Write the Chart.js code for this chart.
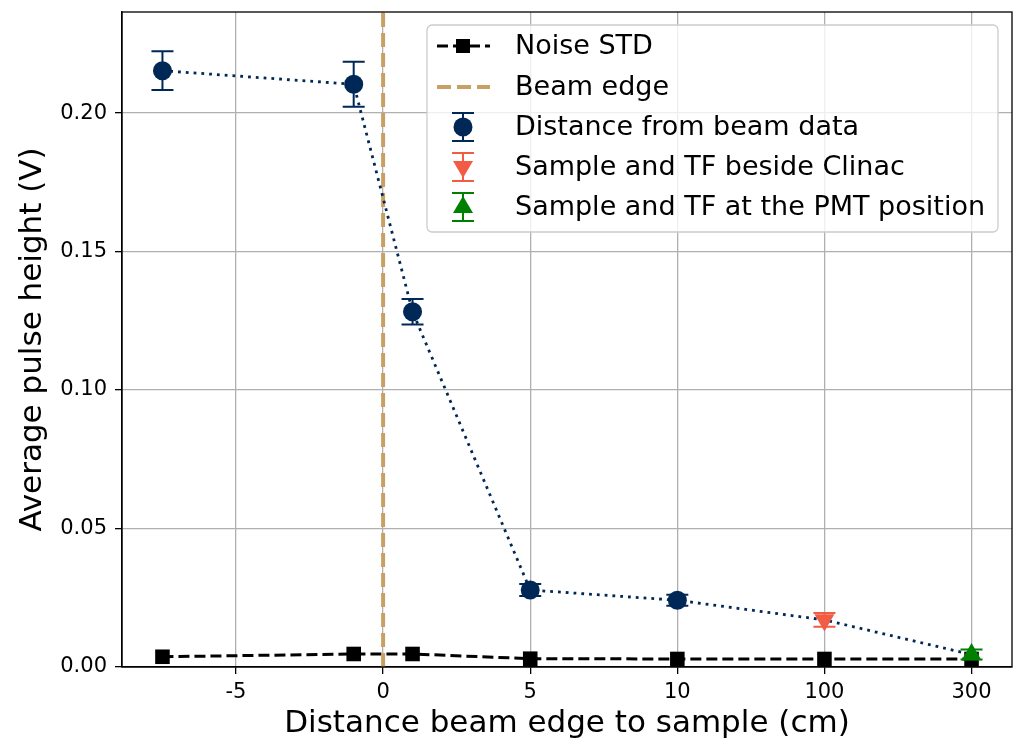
<!DOCTYPE html>
<html lang="en">
<head>
    <meta charset="UTF-8">
    <title>Average pulse height vs distance from beam edge</title>
    <script src="https://cdn.jsdelivr.net/npm/chart.js@4.4.1/dist/chart.umd.min.js"></script>
    <style>
        html, body { margin: 0; padding: 0; background: #fff; }
        #wrap { width: 1020px; height: 747px; }
    </style>
</head>
<body>
    <div id="wrap"><canvas id="pulseChart" width="1020" height="747"></canvas></div>

    <script>
        // Tick positions on the x axis and the distances they stand for (cm)
        const tickPos = [1, 2, 3, 4, 5, 6];
        const tickLabels = ['-5', '0', '5', '10', '100', '300'];
        const yTicks = [0, 0.05, 0.10, 0.15, 0.20];

        // Distance from beam data
        const beamX = [0.5, 1.8, 2.2, 3, 4];
        const beamY = [0.2153, 0.2104, 0.1283, 0.0278, 0.0241];
        const beamErr = [0.0070, 0.0081, 0.0046, 0.0022, 0.0020];

        // Sample and TF beside Clinac
        const clinacX = [5];
        const clinacY = [0.0170];
        const clinacErr = [0.0025];

        // Sample and TF at the PMT position
        const pmtX = [6];
        const pmtY = [0.0045];
        const pmtErr = [0.0018];

        // Noise STD
        const noiseX = [0.5, 1.8, 2.2, 3, 4, 5, 6];
        const noiseY = [0.0037, 0.0047, 0.0047, 0.0030, 0.0029, 0.0029, 0.0029];

        // Beam edge sits at 0 cm
        const edgeX = 2;

        const NAVY = '#002856';
        const RED = '#f25c45';
        const GREEN = '#008000';
        const TAN = '#c9a063';
        const FONT = 'DejaVu Sans';
        const Y_MAX = 0.2365;

        const pts = (xs, ys) => xs.map((x, i) => ({ x: x, y: ys[i] }));

        // dotted guide through every measured point
        const allX = beamX.concat(clinacX, pmtX);
        const allY = beamY.concat(clinacY, pmtY);

        // no extra room for tick labels at the ends of the axes
        const noPad = s => {
            s.paddingTop = 0; s.paddingBottom = 0;
            s.paddingLeft = 0; s.paddingRight = 0;
        };

        // draw error bars of a dataset just before its markers
        const errorBars = {
            id: 'errorBars',
            beforeDatasetDraw(chart, args) {
                const ds = chart.data.datasets[args.index];
                if (!ds.errors) return;
                const { ctx, scales: { x, y } } = chart;
                ctx.save();
                ctx.strokeStyle = ds.errColor;
                ctx.lineWidth = 2;
                ds.data.forEach((p, i) => {
                    const px = x.getPixelForValue(p.x);
                    const top = y.getPixelForValue(p.y + ds.errors[i]);
                    const bot = y.getPixelForValue(p.y - ds.errors[i]);
                    ctx.beginPath();
                    ctx.moveTo(px, top); ctx.lineTo(px, bot);
                    ctx.moveTo(px - 11, top); ctx.lineTo(px + 11, top);
                    ctx.moveTo(px - 11, bot); ctx.lineTo(px + 11, bot);
                    ctx.stroke();
                });
                ctx.restore();
            }
        };

        // top/right spines and the boxed legend inside the plot
        const frameAndLegend = {
            id: 'frameAndLegend',
            afterDraw(chart) {
                const { ctx, chartArea: a } = chart;
                ctx.save();
                ctx.strokeStyle = '#000';
                ctx.lineWidth = 1.3;
                ctx.strokeRect(a.left, a.top, a.right - a.left, a.bottom - a.top);

                // legend frame
                const bx = 427, by = 25, bw = 571, bh = 207, r = 5;
                ctx.beginPath();
                ctx.moveTo(bx + r, by);
                ctx.arcTo(bx + bw, by, bx + bw, by + bh, r);
                ctx.arcTo(bx + bw, by + bh, bx, by + bh, r);
                ctx.arcTo(bx, by + bh, bx, by, r);
                ctx.arcTo(bx, by, bx + bw, by, r);
                ctx.closePath();
                ctx.fillStyle = 'rgba(255,255,255,0.8)';
                ctx.fill();
                ctx.strokeStyle = '#cccccc';
                ctx.lineWidth = 1.3;
                ctx.stroke();

                const names = ['Noise STD', 'Beam edge', 'Distance from beam data',
                    'Sample and TF beside Clinac', 'Sample and TF at the PMT position'];
                const rows = [46, 87, 127, 167, 207];
                const hx = 463;

                // Noise STD handle
                ctx.setLineDash([11, 5]);
                ctx.lineWidth = 3;
                ctx.strokeStyle = '#000';
                ctx.beginPath(); ctx.moveTo(437, rows[0]); ctx.lineTo(490, rows[0]); ctx.stroke();
                ctx.setLineDash([]);
                ctx.fillStyle = '#000';
                ctx.fillRect(hx - 7, rows[0] - 7, 14, 14);

                // Beam edge handle
                ctx.setLineDash([14, 6]);
                ctx.lineWidth = 4;
                ctx.strokeStyle = TAN;
                ctx.beginPath(); ctx.moveTo(437, rows[1]); ctx.lineTo(490, rows[1]); ctx.stroke();
                ctx.setLineDash([]);

                // error bar handles
                const errHandle = (cy, color) => {
                    ctx.strokeStyle = color;
                    ctx.lineWidth = 2;
                    ctx.beginPath();
                    ctx.moveTo(hx, cy - 14); ctx.lineTo(hx, cy + 14);
                    ctx.moveTo(hx - 11, cy - 14); ctx.lineTo(hx + 11, cy - 14);
                    ctx.moveTo(hx - 11, cy + 14); ctx.lineTo(hx + 11, cy + 14);
                    ctx.stroke();
                    ctx.fillStyle = color;
                };
                errHandle(rows[2], NAVY);
                ctx.beginPath(); ctx.arc(hx, rows[2], 9.5, 0, Math.PI * 2); ctx.fill();

                errHandle(rows[3], RED);
                ctx.beginPath();
                ctx.moveTo(hx - 10, rows[3] - 6); ctx.lineTo(hx + 10, rows[3] - 6); ctx.lineTo(hx, rows[3] + 11);
                ctx.closePath(); ctx.fill();

                errHandle(rows[4], GREEN);
                ctx.beginPath();
                ctx.moveTo(hx - 10, rows[4] + 6); ctx.lineTo(hx + 10, rows[4] + 6); ctx.lineTo(hx, rows[4] - 11);
                ctx.closePath(); ctx.fill();

                ctx.fillStyle = '#000';
                ctx.font = '27px "' + FONT + '"';
                ctx.textBaseline = 'middle';
                names.forEach((n, i) => ctx.fillText(n, 515, rows[i] + 1));
                ctx.restore();
            }
        };

        new Chart(document.getElementById('pulseChart'), {
            type: 'scatter',
            data: {
                datasets: [
                    {
                        label: 'Noise STD',
                        data: pts(noiseX, noiseY),
                        showLine: true,
                        borderColor: '#000',
                        borderWidth: 3,
                        borderDash: [11, 5],
                        pointStyle: 'rect',
                        pointRadius: 10.3,
                        pointBorderWidth: 0,
                        pointBackgroundColor: '#000',
                        order: 6
                    },
                    {
                        label: 'Beam edge',
                        data: [{ x: edgeX, y: 0 }, { x: edgeX, y: Y_MAX }],
                        showLine: true,
                        borderColor: TAN,
                        borderWidth: 4,
                        borderDash: [14, 6],
                        pointRadius: 0,
                        order: 5
                    },
                    {
                        label: 'guide',
                        data: pts(allX, allY),
                        showLine: true,
                        borderColor: NAVY,
                        borderWidth: 2.8,
                        borderDash: [2.8, 5],
                        pointRadius: 0,
                        order: 4
                    },
                    {
                        label: 'Distance from beam data',
                        data: pts(beamX, beamY),
                        errors: beamErr,
                        errColor: NAVY,
                        pointRadius: 9.5,
                        pointBorderWidth: 0,
                        pointBackgroundColor: NAVY,
                        order: 3
                    },
                    {
                        label: 'Sample and TF beside Clinac',
                        data: pts(clinacX, clinacY),
                        errors: clinacErr,
                        errColor: RED,
                        pointStyle: 'triangle',
                        rotation: 180,
                        pointRadius: 11.5,
                        pointBorderWidth: 0,
                        pointBackgroundColor: RED,
                        order: 2
                    },
                    {
                        label: 'Sample and TF at the PMT position',
                        data: pts(pmtX, pmtY),
                        errors: pmtErr,
                        errColor: GREEN,
                        pointStyle: 'triangle',
                        pointRadius: 11.5,
                        pointBorderWidth: 0,
                        pointBackgroundColor: GREEN,
                        order: 1
                    }
                ]
            },
            options: {
                responsive: false,
                animation: false,
                devicePixelRatio: 1,
                layout: { autoPadding: false, padding: { top: 12, right: 8, left: 0, bottom: 0 } },
                plugins: {
                    legend: { display: false },
                    tooltip: { enabled: false }
                },
                scales: {
                    x: {
                        type: 'linear',
                        min: 0.225,
                        max: 6.275,
                        afterBuildTicks: s => { s.ticks = tickPos.map(v => ({ value: v })); },
                        afterFit: s => { s.height = 80; noPad(s); },
                        ticks: {
                            callback: v => tickLabels[tickPos.indexOf(v)],
                            color: '#000',
                            padding: 6,
                            maxRotation: 0,
                            font: { family: FONT, size: 21 }
                        },
                        grid: { color: '#b0b0b0', lineWidth: 1.3, tickColor: '#000', tickLength: 7 },
                        border: { color: '#000', width: 1.3 },
                        title: {
                            display: true,
                            text: 'Distance beam edge to sample (cm)',
                            color: '#000',
                            font: { family: FONT, size: 31 },
                            padding: { top: 0, bottom: 4 }
                        }
                    },
                    y: {
                        min: 0,
                        max: Y_MAX,
                        afterBuildTicks: s => { s.ticks = yTicks.map(v => ({ value: v })); },
                        afterFit: s => { s.width = 122; noPad(s); },
                        ticks: {
                            callback: v => v.toFixed(2),
                            color: '#000',
                            padding: 8,
                            font: { family: FONT, size: 21 }
                        },
                        grid: { color: '#b0b0b0', lineWidth: 1.3, tickColor: '#000', tickLength: 7 },
                        border: { color: '#000', width: 1.3 },
                        title: {
                            display: true,
                            text: 'Average pulse height (V)',
                            color: '#000',
                            font: { family: FONT, size: 31 },
                            padding: { top: 14, bottom: 0 }
                        }
                    }
                }
            },
            plugins: [errorBars, frameAndLegend]
        });
    </script>
</body>
</html>
